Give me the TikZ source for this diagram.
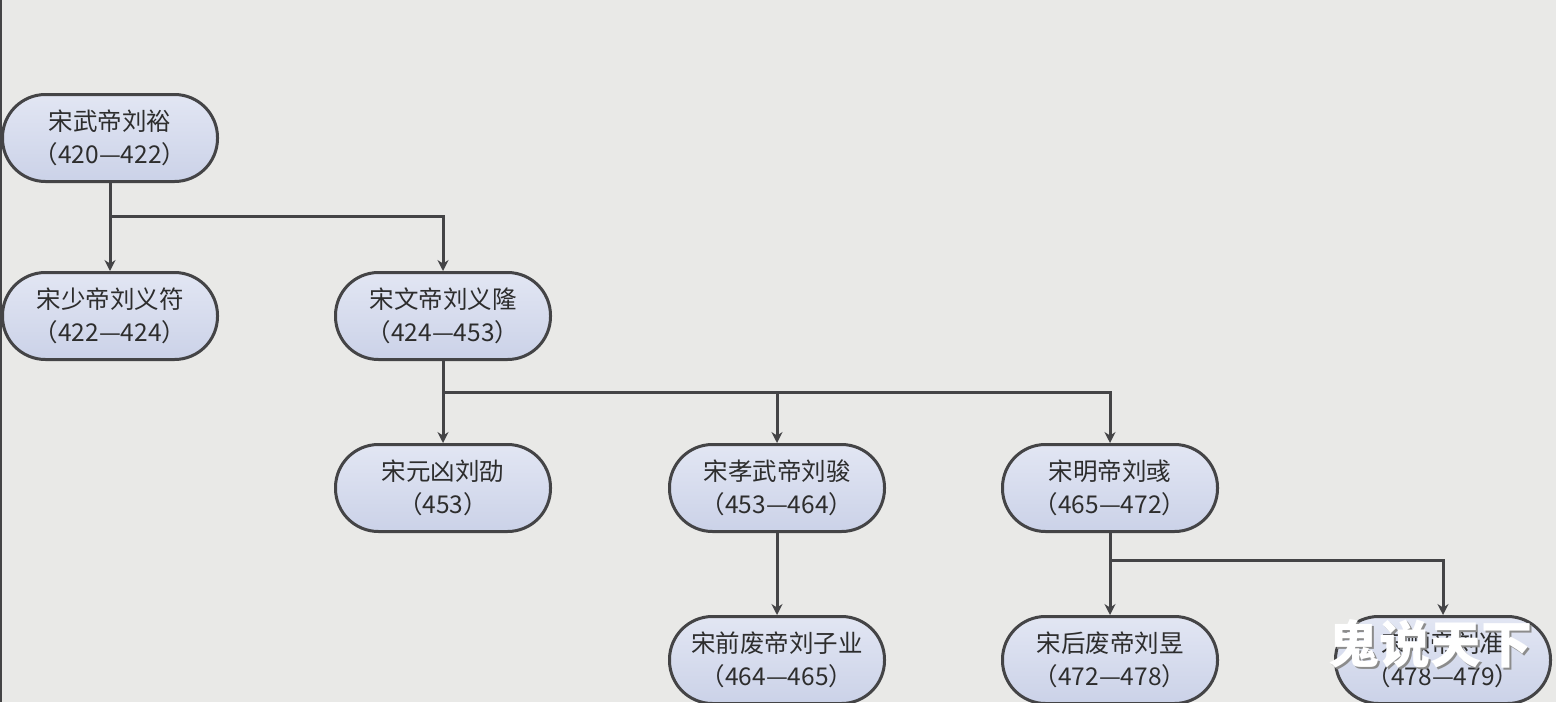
\documentclass[tikz,border=0pt]{standalone}
\usepackage{fontspec}
\newfontfamily\cjk{Noto Sans CJK SC}
\usetikzlibrary{arrows.meta}
\definecolor{bgc}{RGB}{233,233,231}
\definecolor{edgec}{RGB}{68,68,70}
\definecolor{txtc}{RGB}{45,45,45}
\definecolor{topc}{RGB}{226,230,243}
\definecolor{botc}{RGB}{203,210,232}
\tikzset{
  emp/.style={draw=edgec, line width=3pt, rounded corners=43pt,
    minimum width=215pt, minimum height=87pt, inner sep=0pt,
    top color=topc, bottom color=botc, align=center, text=txtc,
    font=\cjk\fontsize{24.5}{33}\selectfont},
  link/.style={draw=edgec, line width=3pt},
  arr/.style={link, -{Stealth[length=11pt,width=11pt]}}
}
\begin{document}
\begin{tikzpicture}[x=1pt,y=-1pt]
\useasboundingbox (0,0) rectangle (1556,702);
\fill[bgc] (0,0) rectangle (1556,702);
\draw[edgec, line width=2.5pt] (1,0) -- (1,702);

\node[emp] (n1) at (110,138) {宋武帝刘裕\\（420—422）};
\node[emp] (n2) at (110,316) {宋少帝刘义符\\（422—424）};
\node[emp] (n3) at (443,316) {宋文帝刘义隆\\（424—453）};
\node[emp] (n4) at (443,488) {宋元凶刘劭\\（453）};
\node[emp] (n5) at (777,488) {宋孝武帝刘骏\\（453—464）};
\node[emp] (n6) at (1110,488) {宋明帝刘彧\\（465—472）};
\node[emp] (n7) at (777,660) {宋前废帝刘子业\\（464—465）};
\node[emp] (n8) at (1110,660) {宋后废帝刘昱\\（472—478）};
\node[emp] (n9) at (1443,660) {宋顺帝刘准\\（478—479）};

\coordinate (j1) at (110,216);
\coordinate (j2) at (443,392);
\coordinate (j3) at (1110,560);

\draw[link] (n1.south) -- (j1);
\draw[arr] (j1) -- (n2.north);
\draw[arr] (j1) -| (n3.north);

\draw[link] (n3.south) -- (j2);
\draw[arr] (j2) -- (n4.north);
\draw[arr] (j2) -| (n6.north);
\draw[arr] (j2 -| n5.north) -- (n5.north);

\draw[arr] (n5.south) -- (n7.north);

\draw[link] (n6.south) -- (j3);
\draw[arr] (j3) -- (n8.north);
\draw[arr] (j3) -| (n9.north);

\node[text=black!45, font=\cjk\bfseries\fontsize{51}{51}\selectfont] (wms) at (1432,646) {鬼说天下};
\node[text=white, font=\cjk\bfseries\fontsize{51}{51}\selectfont] (wm) at (1430,644) {鬼说天下};
\end{tikzpicture}
\end{document}
